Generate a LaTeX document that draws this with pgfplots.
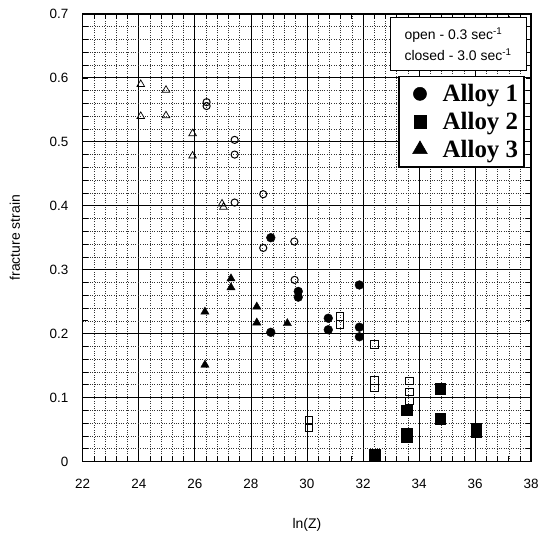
\documentclass[border=0pt]{standalone}
\usepackage{fontspec}
\setmainfont{Liberation Sans}
\newfontfamily\timesfont{Liberation Serif}
\usepackage{pgfplots}
\pgfplotsset{compat=1.18}

\pgfplotstableread{
x y
26.42 0.562
26.42 0.556
27.42 0.503
27.42 0.480
27.42 0.405
28.44 0.418
28.44 0.334
29.55 0.344
29.56 0.284
}\alloyAopen
\pgfplotstableread{
x y
28.71 0.350
28.71 0.202
29.69 0.266
29.69 0.257
30.76 0.224
30.76 0.206
31.87 0.276
31.87 0.210
31.87 0.195
}\alloyAclosed
\pgfplotstableread{
x y
30.07 0.064
30.07 0.053
31.17 0.227
31.17 0.214
32.40 0.183
32.40 0.127
32.40 0.115
33.66 0.126
33.66 0.109
33.66 0.095
}\alloyBopen
\pgfplotstableread{
x y
32.42 0.010
33.57 0.080
33.57 0.043
33.57 0.039
34.75 0.114
34.75 0.067
36.04 0.052
36.04 0.046
}\alloyBclosed
\pgfplotstableread{
x y
24.07 0.590
24.07 0.540
24.97 0.581
24.97 0.541
25.92 0.513
25.92 0.478
26.97 0.403
27.02 0.398
}\alloyCopen
\pgfplotstableread{
x y
26.36 0.234
26.36 0.151
27.29 0.286
27.29 0.272
28.21 0.242
28.21 0.217
29.30 0.216
}\alloyCclosed

\begin{document}
\begin{tikzpicture}[x=1pt,y=1pt]
\begin{axis}[
  scale only axis, width=450pt, height=449pt,
  xmin=22, xmax=38, ymin=0, ymax=0.7,
  xtick={22,24,26,28,30,32,34,36,38},
  ytick={0,0.1,0.2,0.3,0.4,0.5,0.6,0.7},
  minor x tick num=4, minor y tick num=4,
  grid=both,
  major grid style={black, line width=0.8pt},
  minor grid style={black!80, line width=0.5pt, dash pattern=on 0.8pt off 1.6pt},
  tick align=inside,
  major tick length=5pt, minor tick length=5pt,
  every tick/.style={black, line width=0.7pt},
  axis line style={black, line width=1.5pt},
  /pgf/number format/.cd, fixed, precision=1, assume math mode=true,
  /pgfplots/.cd,
  tick label style={font=\fontsize{13.5}{16}\selectfont},
  xticklabel style={yshift=-14pt},
  yticklabel style={xshift=-11pt},
  label style={font=\fontsize{14}{17}\selectfont},
  xlabel={ln(Z)},
  ylabel={fracture strain},
  xlabel style={at={(axis description cs:0.5,-0.1425)}, anchor=center},
  ylabel style={at={(axis description cs:-0.151,0.5)}, anchor=center},
  legend style={at={(axis description cs:0.986,0.862)}, anchor=north east,
    draw=black, line width=1.6pt, fill=white,
    font=\timesfont\bfseries\fontsize{25}{30}\selectfont,
    inner xsep=4pt, inner ysep=6pt, row sep=5pt,
    nodes={inner sep=2pt}},
  legend cell align=left,
  legend image code/.code={\draw[#1,line width=0.5pt] plot coordinates {(16pt,0pt)};\path (0pt,0pt) (36pt,0pt);},
]
\addplot[only marks, mark=o, mark size=3.6pt, black, line width=1pt, forget plot] table {\alloyAopen};
\addplot[only marks, mark=*, mark size=4.4pt, black, forget plot] table {\alloyAclosed};
\addplot[only marks, mark=square, mark size=3.8pt, black, line width=0.8pt, forget plot] table {\alloyBopen};
\addplot[only marks, mark=square*, mark size=5.4pt, black, forget plot] table {\alloyBclosed};
\addplot[only marks, mark=triangle, mark size=4.4pt, black, line width=0.7pt, forget plot] table {\alloyCopen};
\addplot[only marks, mark=triangle*, mark size=4.8pt, black, forget plot] table {\alloyCclosed};
\addlegendimage{only marks, mark=*, mark size=6.6pt, black}
\addlegendentry{Alloy 1}
\addlegendimage{only marks, mark=square*, mark size=6.2pt, black}
\addlegendentry{Alloy 2}
\addlegendimage{only marks, mark=triangle*, mark size=8.5pt, black}
\addlegendentry{Alloy 3}
\node[draw=black, line width=0.8pt, fill=white, align=left,
  minimum width=136.6pt, minimum height=52.7pt, inner xsep=0pt,
  font=\fontsize{14}{21}\selectfont, anchor=north east]
  at (axis description cs:0.9896,0.9927)
  {open - 0.3 sec\textsuperscript{-1}\\closed - 3.0 sec\textsuperscript{-1}};
\end{axis}
\path[use as bounding box] (-83,-72) rectangle (459,463);
\end{tikzpicture}
\end{document}
